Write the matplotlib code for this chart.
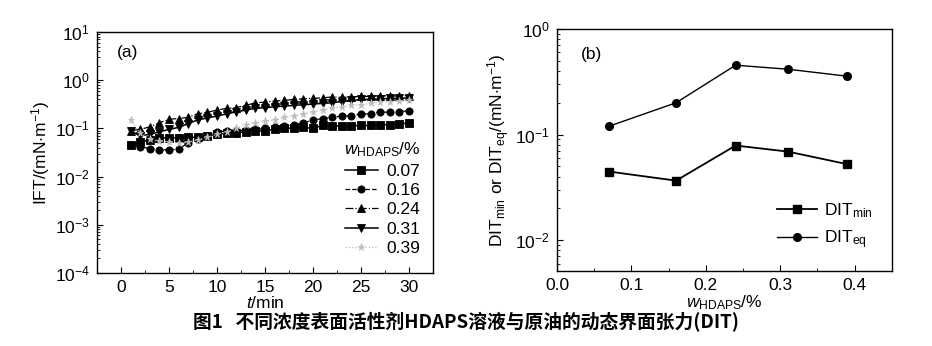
import numpy as np
import matplotlib
matplotlib.use("Agg")
import matplotlib.pyplot as plt
from matplotlib.ticker import MultipleLocator, LogLocator, NullFormatter

plt.rcParams['font.family'] = ['Liberation Sans', 'DejaVu Sans']
plt.rcParams['mathtext.fontset'] = 'custom'
plt.rcParams['mathtext.rm'] = 'Liberation Sans'
plt.rcParams['mathtext.it'] = 'Liberation Sans:italic'
plt.rcParams['mathtext.bf'] = 'Liberation Sans:bold'

# ---------------- data (a) ----------------
t_min = list(range(1, 31))
conc_labels = ["0.07", "0.16", "0.24", "0.31", "0.39"]
ift_007 = [0.045, 0.052, 0.058, 0.063, 0.064, 0.064, 0.065, 0.066, 0.070, 0.075,
           0.080, 0.082, 0.085, 0.088, 0.090, 0.095, 0.100, 0.102, 0.105, 0.100,
           0.115, 0.113, 0.112, 0.113, 0.115, 0.115, 0.118, 0.120, 0.125, 0.128]
ift_016 = [0.045, 0.042, 0.038, 0.036, 0.036, 0.037, 0.050, 0.060, 0.070, 0.085,
           0.088, 0.090, 0.092, 0.095, 0.100, 0.105, 0.110, 0.120, 0.130, 0.150,
           0.160, 0.170, 0.180, 0.185, 0.200, 0.200, 0.220, 0.215, 0.220, 0.235]
ift_024 = [0.090, 0.095, 0.108, 0.130, 0.155, 0.160, 0.170, 0.200, 0.215, 0.240,
           0.260, 0.270, 0.300, 0.340, 0.350, 0.370, 0.380, 0.400, 0.410, 0.420,
           0.430, 0.450, 0.440, 0.450, 0.460, 0.460, 0.480, 0.470, 0.470, 0.480]
ift_031 = [0.090, 0.070, 0.075, 0.085, 0.095, 0.105, 0.125, 0.150, 0.165, 0.180,
           0.200, 0.220, 0.240, 0.260, 0.270, 0.280, 0.290, 0.300, 0.310, 0.320,
           0.330, 0.340, 0.360, 0.380, 0.400, 0.400, 0.410, 0.420, 0.420, 0.430]
ift_039 = [0.150, 0.080, 0.060, 0.055, 0.052, 0.050, 0.052, 0.058, 0.065, 0.075,
           0.085, 0.100, 0.120, 0.130, 0.140, 0.150, 0.170, 0.185, 0.200, 0.220,
           0.240, 0.260, 0.280, 0.300, 0.310, 0.330, 0.350, 0.360, 0.370, 0.380]

# ---------------- data (b) ----------------
w_hdaps = [0.07, 0.16, 0.24, 0.31, 0.39]
dit_min = [0.0446, 0.0366, 0.0787, 0.069, 0.0524]
dit_eq = [0.12, 0.20, 0.454, 0.416, 0.357]

FS = 12.5

fig = plt.figure(figsize=(9.32, 3.46), dpi=100)
axa = fig.add_axes([0.104, 0.211, 0.3605, 0.6965])
axb = fig.add_axes([0.5976, 0.2168, 0.3594, 0.6994])

styles = [
    dict(marker='s', color='black', ls='-', lw=1.1),
    dict(marker='o', color='black', ls='--', lw=0.9),
    dict(marker='^', color='black', ls='-.', lw=0.9),
    dict(marker='v', color='black', ls='-', lw=1.1),
    dict(marker='*', color='#bdbdbd', ls=':', lw=0.9),
]
series = [ift_007, ift_016, ift_024, ift_031, ift_039]
for ys, lab, st in zip(series, conc_labels, styles):
    axa.plot(t_min, ys, label=lab, markersize=5.2, markeredgewidth=0.6,
             markerfacecolor=st['color'], markeredgecolor=st['color'],
             **st)

axa.set_yscale('log')
axa.set_ylim(1e-4, 1e1)
axa.set_xlim(-2.5, 32.5)
axa.xaxis.set_major_locator(MultipleLocator(5))
axa.xaxis.set_minor_locator(MultipleLocator(2.5))
axa.yaxis.set_major_locator(LogLocator(base=10, numticks=10))
axa.yaxis.set_minor_locator(LogLocator(base=10, subs=np.arange(2, 10), numticks=20))
axa.yaxis.set_minor_formatter(NullFormatter())
axa.set_xlabel(r'$\it{t}$/min', fontsize=FS, labelpad=0)
axa.set_ylabel(r'IFT/(mN$\cdot$m$^{-1}$)', fontsize=FS, labelpad=2)
axa.text(0.06, 0.895, '(a)', transform=axa.transAxes, fontsize=FS)
axa.legend(loc='lower right', frameon=False, fontsize=FS,
           title=r'$\it{w}_{\rm HDAPS}$/%', title_fontsize=FS,
           handlelength=1.9, handletextpad=0.5, labelspacing=0.24,
           borderaxespad=0.3, bbox_to_anchor=(1.0, 0.02))

axb.plot(w_hdaps, dit_min, marker='s', color='black', lw=1.3, markersize=5.5,
         label=r'DIT$_{\rm min}$')
axb.plot(w_hdaps, dit_eq, marker='o', color='black', lw=1.0, markersize=5.5,
         label=r'DIT$_{\rm eq}$')
axb.set_yscale('log')
axb.set_ylim(5.1e-3, 1.0)
axb.set_xlim(0.0, 0.45)
axb.xaxis.set_major_locator(MultipleLocator(0.1))
axb.xaxis.set_minor_locator(MultipleLocator(0.05))
axb.yaxis.set_minor_locator(LogLocator(base=10, subs=np.arange(2, 10), numticks=20))
axb.yaxis.set_minor_formatter(NullFormatter())
axb.xaxis.set_major_formatter(matplotlib.ticker.FormatStrFormatter('%.1f'))
axb.set_xlabel(r'$\it{w}_{\rm HDAPS}$/%', fontsize=FS, labelpad=0)
axb.set_ylabel(r'DIT$_{\rm min}$ or DIT$_{\rm eq}$/(mN$\cdot$m$^{-1}$)', fontsize=FS, labelpad=2)
axb.text(0.07, 0.875, '(b)', transform=axb.transAxes, fontsize=FS)
axb.legend(loc='lower right', frameon=False, fontsize=FS, handlelength=2.3,
           handletextpad=0.4, labelspacing=0.45, bbox_to_anchor=(0.99, 0.02))

for ax in (axa, axb):
    ax.tick_params(which='both', direction='in', top=False, right=False,
                   labelsize=FS, pad=5)
    ax.tick_params(which='major', length=4)
    ax.tick_params(which='minor', length=2)
    for sp in ax.spines.values():
        sp.set_linewidth(1.0)

fig.text(0.5, 0.069, '图1   不同浓度表面活性剂HDAPS溶液与原油的动态界面张力(DIT)',
         ha='center', va='center', fontsize=13.5, fontweight='bold',
         family=['Noto Sans CJK SC', 'DejaVu Sans'])

fig.savefig('out.png', dpi=100)
